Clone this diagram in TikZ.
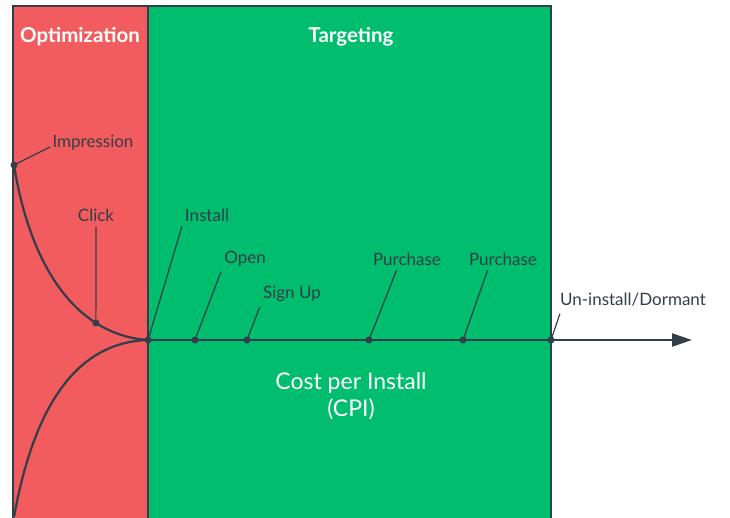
\documentclass[tikz,border=0pt]{standalone}
\usepackage{fontspec}
\setmainfont{Lato}
\usetikzlibrary{arrows.meta,calc}
\definecolor{optred}{HTML}{F25C5F}
\definecolor{tgtgreen}{HTML}{00BE6E}
\definecolor{ink}{HTML}{323E48}
\begin{document}
\begin{tikzpicture}[x=1pt,y=-1pt,
  dot/.style={circle,fill=ink,inner sep=0pt,minimum size=7pt},
  lbl/.style={text=ink,font=\fontsize{17}{19}\selectfont,inner sep=2pt},
  head/.style={text=white,font=\fontsize{20.5}{24}\selectfont\bfseries,inner sep=0pt},
  lead/.style={ink,line width=1.2pt,shorten <=3pt},
  curve/.style={ink,line width=2.2pt},
  panel/.style={draw=ink,line width=2pt}]
\clip (0,0) rectangle (730,517);
% panels
\path[panel,fill=optred] (13,6) rectangle (148,540);
\path[panel,fill=tgtgreen] (148,6) rectangle (551,540);
\node[head] (hopt) at (80,37) {Optimization};
\node[head] (htgt) at (351,37) {Targeting};
% points on timeline
\coordinate (pImp) at (14,165);
\coordinate (pLow) at (14,517);
\node[dot] (pInst) at (148,340) {};
\node[dot] (pOpen) at (195,340) {};
\node[dot] (pSign) at (247,340) {};
\node[dot] (pPur1) at (369,340) {};
\node[dot] (pPur2) at (463,340) {};
\node[dot] (pUn) at (551,340) {};
\coordinate (pEnd) at (692,340);
% curves
\draw[curve] (pImp) .. controls (30,265) and (75,335) .. (pInst.center)
  node[pos=0.735,dot] (pClick) {};
\draw[curve] (pLow) .. controls (35,400) and (80,342) .. (pInst.center);
\node[dot] at (pImp) (dImp) {};
% timeline
\draw[curve,-{Triangle[length=20pt,width=13pt]}] (pInst.center) -- (pEnd);
% labels
\node[lbl] (limp) at (93,143) {Impression};
\node[lbl] (lclick) at (96,215) {Click};
\node[lbl] (linst) at (207,215) {Install};
\node[lbl] (lopen) at (245,259) {Open};
\node[lbl] (lsign) at (292,294) {Sign Up};
\node[lbl] (lpur1) at (407,259) {Purchase};
\node[lbl] (lpur2) at (503,259) {Purchase};
\node[lbl] (lun) at (633,300) {Un-install/Dormant};
% leaders
\draw[lead,shorten <=0pt] ($(limp.south west)+(0,-6)$) -- (dImp.center);
\draw[lead] (lclick.south) -- (pClick.center);
\draw[lead] (linst.south west) -- (pInst.center);
\draw[lead] (lopen.south west) -- (pOpen.center);
\draw[lead] (lsign.south west) -- (pSign.center);
\draw[lead] ($(lpur1.south west)!0.37!(lpur1.south east)$) -- (pPur1.center);
\draw[lead] ($(lpur2.south west)!0.3!(lpur2.south east)$) -- (pPur2.center);
\draw[lead] ($(lun.south west)+(3,2)$) -- (pUn.center);
% CPI text
\node[text=white,font=\fontsize{23}{27}\selectfont\addfontfeature{Weight=Light},align=center] (cpi) at (351,396) {Cost per Install\\(CPI)};
\end{tikzpicture}
\end{document}
